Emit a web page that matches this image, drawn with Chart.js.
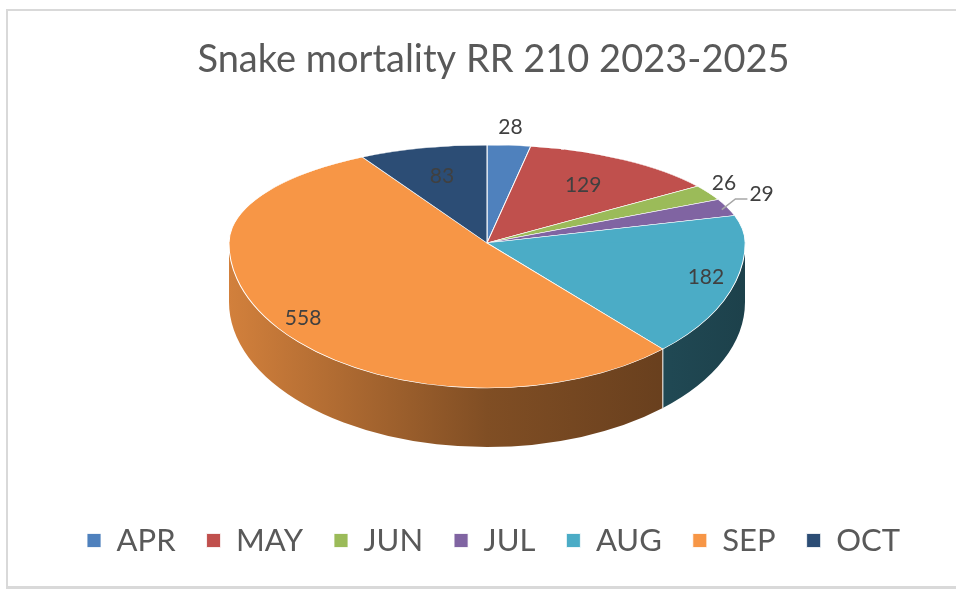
<!DOCTYPE html>
<html>
<head>
<meta charset="utf-8">
<script src="https://cdn.jsdelivr.net/npm/chart.js@4.4.1/dist/chart.umd.min.js"></script>
<style>
  html, body { margin: 0; padding: 0; background: #fff; overflow: hidden; }
  #frame {
    position: absolute; left: 6px; top: 9px; width: 960px; height: 575px;
    border-top: 2px solid #d9d9d9; border-left: 2px solid #d9d9d9; border-bottom: 3px solid #d9d9d9;
  }
  #chart { position: absolute; left: 0; top: 0; }
</style>
</head>
<body>
<div id="frame"></div>
<canvas id="chart" width="956" height="589"></canvas>
<script>
const months = ['APR', 'MAY', 'JUN', 'JUL', 'AUG', 'SEP', 'OCT'];
const mortality = [28, 129, 26, 29, 182, 558, 83];
const sliceColors = ['#4F81BD', '#C0504D', '#9BBB59', '#8064A2', '#4BACC6', '#F79646', '#2C4D75'];
const chartTitle = 'Snake mortality RR 210 2023-2025';

// where the tilted pie sits on the page (back half is flatter than the front)
const PIE = { cx: 487, apexY: 243, rx: 258, ryBack: 98, ryFront: 145, depth: 59 };

function shade(hex, k) {
    const n = parseInt(hex.slice(1), 16);
    const r = Math.round(((n >> 16) & 255) * k);
    const g = Math.round(((n >> 8) & 255) * k);
    const b = Math.round((n & 255) * k);
    return `rgb(${r}, ${g}, ${b})`;
}

function piePoint(angle, f) {
    const ry = Math.sin(angle) < 0 ? PIE.ryBack : PIE.ryFront;
    return {
        x: PIE.cx + PIE.rx * f * Math.cos(angle),
        y: PIE.apexY + ry * f * Math.sin(angle)
    };
}

function drawWalls(ctx, arcs) {
    const { cx, apexY, rx, ryFront, depth } = PIE;
    arcs.forEach(arc => {
        const a1 = Math.max(arc.startAngle, 0);
        const a2 = Math.min(arc.endAngle, Math.PI);
        if (a2 <= a1) return;
        const base = arc.options.backgroundColor;
        const grad = ctx.createLinearGradient(cx - rx, 0, cx + rx, 0);
        grad.addColorStop(0, shade(base, 0.85));
        grad.addColorStop(0.5, shade(base, 0.52));
        grad.addColorStop(1, shade(base, 0.38));
        ctx.save();
        ctx.beginPath();
        ctx.ellipse(cx, apexY, rx, ryFront, 0, a1, a2);
        ctx.ellipse(cx, apexY + depth, rx, ryFront, 0, a2, a1, true);
        ctx.closePath();
        ctx.fillStyle = grad;
        ctx.fill();
        // white seam where two walls meet
        if (a1 > 0) {
            const x = cx + rx * Math.cos(a1), y = apexY + ryFront * Math.sin(a1);
            ctx.beginPath();
            ctx.moveTo(x, y);
            ctx.lineTo(x, y + depth);
            ctx.strokeStyle = 'rgba(255, 255, 255, 0.8)';
            ctx.lineWidth = 1.2;
            ctx.stroke();
        }
        ctx.restore();
    });
}

function drawValueLabels(ctx, arcs) {
    const total = mortality.reduce((a, b) => a + b, 0);
    const placed = [];
    ctx.save();
    ctx.font = '21px Lato';
    ctx.fillStyle = '#404040';
    ctx.textAlign = 'center';
    ctx.textBaseline = 'middle';
    arcs.forEach((arc, i) => {
        const text = String(mortality[i]);
        const w = ctx.measureText(text).width;
        const h = 20;
        const mid = (arc.startAngle + arc.endAngle) / 2;
        let pos;
        if (mortality[i] / total >= 0.04) {
            pos = piePoint(mid, Math.sin(mid) < 0 ? 0.7 : 0.88);
        } else {
            const edge = piePoint(mid, 1);
            let d = 18;
            const at = dist => ({ x: edge.x + dist * Math.cos(mid), y: edge.y + dist * Math.sin(mid) });
            pos = at(d);
            while (placed.some(b => Math.abs(b.x - pos.x) < (b.w + w) / 2 + 2 && Math.abs(b.y - pos.y) < h)) {
                d += 4;
                pos = at(d);
            }
            if (d > 18) {
                // leader line from the slice to the pushed label
                pos = { x: pos.x + 10, y: pos.y - 4 };
                ctx.save();
                ctx.strokeStyle = '#A6A6A6';
                ctx.lineWidth = 1.5;
                ctx.beginPath();
                ctx.moveTo(edge.x - 6 * Math.cos(mid), edge.y - 6 * Math.sin(mid));
                ctx.lineTo(pos.x - w / 2 - 14, pos.y + 5);
                ctx.lineTo(pos.x - w / 2 - 2, pos.y + 5);
                ctx.stroke();
                ctx.restore();
            }
        }
        placed.push({ x: pos.x, y: pos.y, w: w });
        ctx.fillText(text, pos.x, pos.y);
    });
    ctx.restore();
}

const tiltedPie = {
    id: 'tiltedPie',
    beforeDatasetsDraw(chart) {
        const ctx = chart.ctx;
        const meta = chart.getDatasetMeta(0);
        const arcs = meta.data;
        if (!arcs.length) return false;
        const ox = arcs[0].x, oy = arcs[0].y, R = arcs[0].outerRadius;

        drawWalls(ctx, arcs);

        // top face: back half, then front half, each squashed differently
        const halves = [
            [0, PIE.apexY + 0.5, PIE.ryBack],
            [PIE.apexY - 0.5, chart.height, PIE.ryFront]
        ];
        halves.forEach(([y0, y1, ry]) => {
            ctx.save();
            ctx.beginPath();
            ctx.rect(0, y0, chart.width, y1 - y0);
            ctx.clip();
            ctx.translate(PIE.cx, PIE.apexY);
            ctx.scale(PIE.rx / R, ry / R);
            ctx.translate(-ox, -oy);
            meta.controller.draw();
            ctx.restore();
        });

        drawValueLabels(ctx, arcs);
        return false;
    }
};

new Chart(document.getElementById('chart'), {
    type: 'pie',
    data: {
        labels: months,
        datasets: [{
            data: mortality,
            backgroundColor: sliceColors,
            borderColor: '#ffffff',
            borderWidth: 0.8
        }]
    },
    options: {
        responsive: false,
        animation: false,
        layout: { padding: { left: 31, right: 0, top: 0, bottom: 23 } },
        plugins: {
            title: {
                display: true,
                text: chartTitle,
                color: '#595959',
                font: { family: 'Lato', size: 38, weight: 'normal' },
                padding: { top: 37, bottom: 10 }
            },
            legend: {
                position: 'bottom',
                labels: {
                    color: '#595959',
                    font: { family: 'Lato', size: 31 },
                    boxWidth: 14,
                    boxHeight: 14,
                    padding: 31
                }
            },
            tooltip: { enabled: false }
        }
    },
    plugins: [tiltedPie]
});
</script>
</body>
</html>
